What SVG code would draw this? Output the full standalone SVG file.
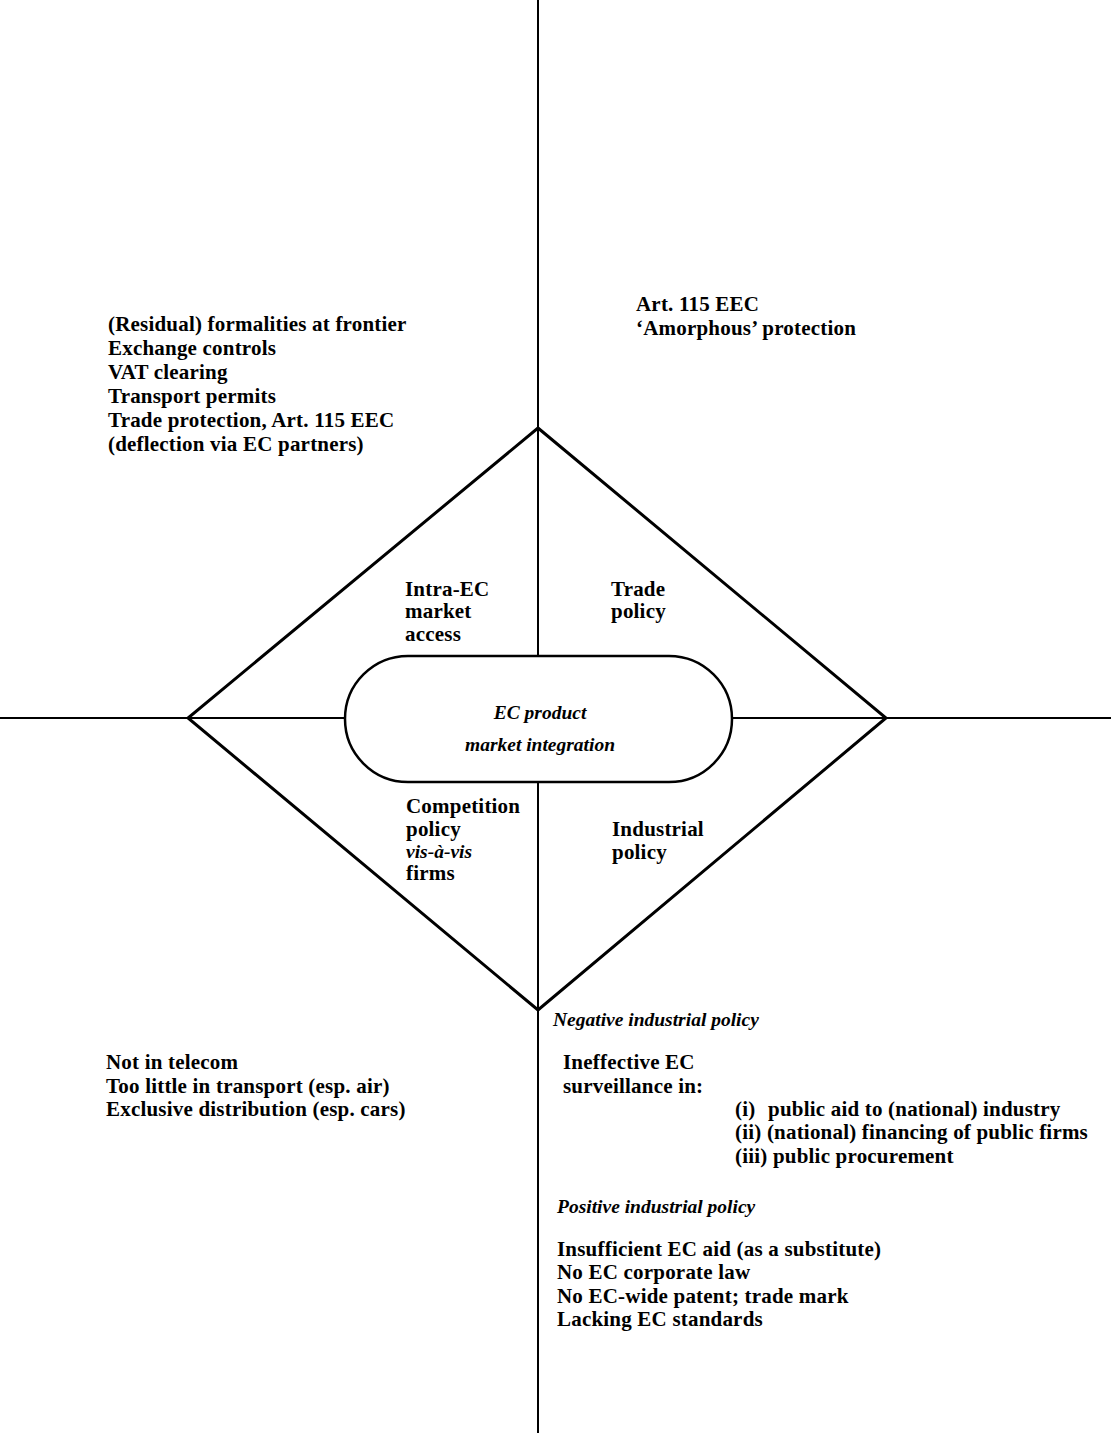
<svg xmlns="http://www.w3.org/2000/svg" width="1111" height="1433" viewBox="0 0 1111 1433">
<style>
.t{font-family:"Liberation Serif","Times New Roman",serif;font-weight:bold;font-size:21px;letter-spacing:0.2px;fill:#000}
.i{font-style:italic;font-size:19.5px;letter-spacing:0}
.ax{stroke:#000;stroke-width:2;fill:none}
.dm{stroke:#000;stroke-width:3;fill:none;stroke-linejoin:miter}
</style>
<rect width="1111" height="1433" fill="#fff"/>
<g id="connectors">
<line class="ax" x1="538" y1="0" x2="538" y2="656"/>
<line class="ax" x1="538" y1="782" x2="538" y2="1433"/>
<line class="ax" x1="0" y1="718" x2="345" y2="718"/>
<line class="ax" x1="732" y1="718" x2="1111" y2="718"/>
</g>
<g id="diamond">
<polygon class="dm" points="538,428 886,718 538,1010 188,718"/>
</g>
<g id="center">
<rect x="345" y="656" width="387" height="126" rx="63" ry="63" fill="#fff" stroke="#000" stroke-width="2.5"/>
<text class="t i" x="540" y="719" text-anchor="middle">EC product</text>
<text class="t i" x="540" y="751" text-anchor="middle">market integration</text>
</g>
<g id="intra">
<text class="t" x="405" y="596">Intra-EC</text>
<text class="t" x="405" y="618">market</text>
<text class="t" x="405" y="641">access</text>
</g>
<g id="trade">
<text class="t" x="611" y="596">Trade</text>
<text class="t" x="611" y="618">policy</text>
</g>
<g id="competition">
<text class="t" x="406" y="813">Competition</text>
<text class="t" x="406" y="836">policy</text>
<text class="t i" x="406" y="858">vis-à-vis</text>
<text class="t" x="406" y="880">firms</text>
</g>
<g id="industrial">
<text class="t" x="612" y="836">Industrial</text>
<text class="t" x="612" y="859">policy</text>
</g>
<g id="topleft">
<text class="t" x="108" y="331">(Residual) formalities at frontier</text>
<text class="t" x="108" y="355">Exchange controls</text>
<text class="t" x="108" y="379">VAT clearing</text>
<text class="t" x="108" y="403">Transport permits</text>
<text class="t" x="108" y="427">Trade protection, Art. 115 EEC</text>
<text class="t" x="108" y="451">(deflection via EC partners)</text>
</g>
<g id="topright">
<text class="t" x="636" y="311">Art. 115 EEC</text>
<text class="t" x="636" y="335">‘Amorphous’ protection</text>
</g>
<g id="bottomleft">
<text class="t" x="106" y="1069">Not in telecom</text>
<text class="t" x="106" y="1093">Too little in transport (esp. air)</text>
<text class="t" x="106" y="1116">Exclusive distribution (esp. cars)</text>
</g>
<g id="bottomright">
<text class="t i" x="553" y="1026">Negative industrial policy</text>
<text class="t" x="563" y="1069">Ineffective EC</text>
<text class="t" x="563" y="1093">surveillance in:</text>
<text class="t" y="1116"><tspan x="735">(i)</tspan><tspan x="768">public aid to (national) industry</tspan></text>
<text class="t" x="735" y="1139">(ii) (national) financing of public firms</text>
<text class="t" x="735" y="1163">(iii) public procurement</text>
<text class="t i" x="557" y="1213">Positive industrial policy</text>
<text class="t" x="557" y="1256">Insufficient EC aid (as a substitute)</text>
<text class="t" x="557" y="1279">No EC corporate law</text>
<text class="t" x="557" y="1303">No EC-wide patent; trade mark</text>
<text class="t" x="557" y="1326">Lacking EC standards</text>
</g>
</svg>
